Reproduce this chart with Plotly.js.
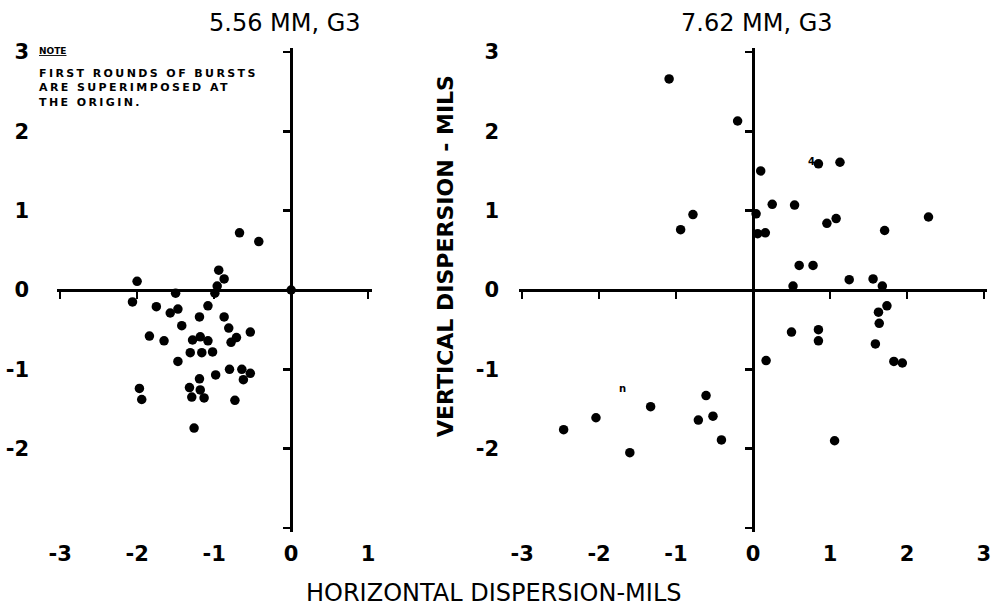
<!DOCTYPE html>
<html><head><meta charset="utf-8">
<script src="https://cdn.plot.ly/plotly-3.0.1.min.js"></script>
<style>html,body{margin:0;padding:0;background:#fff}#chart{width:991px;height:608px}</style>
</head><body><div id="chart"></div>
<script>
// ---- text ----
const leftTitle = "5.56 MM, G3";
const rightTitle = "7.62 MM, G3";
const xTitle = "HORIZONTAL DISPERSION-MILS";
const yTitle = "VERTICAL DISPERSION - MILS";
const noteHead = "NOTE";
const noteLines = ["FIRST ROUNDS OF BURSTS", "ARE SUPERIMPOSED AT", "THE ORIGIN."];
const rightMarkText = ["n", "4"];
const rightMarkX = [-1.70, 0.76];
const rightMarkY = [-1.24, 1.62];

// ---- data: 5.56 mm, G3 ----
const leftX = [0, -0.67, -0.42, -0.94, -0.87, -0.96, -0.99, -2.00, -2.06, -1.50, -1.75, -1.57, -1.47, -1.08,
  -1.19, -1.42, -0.87, -0.81, -0.53, -0.71, -0.78, -1.84, -1.65, -1.28, -1.18, -1.08, -1.31, -1.16,
  -1.02, -1.47, -0.80, -0.98, -0.64, -0.53, -0.62, -1.19, -1.32, -1.29, -1.13, -1.18, -1.97, -1.94,
  -0.73, -1.26];
const leftY = [0, 0.72, 0.61, 0.25, 0.14, 0.05, -0.04, 0.11, -0.15, -0.04, -0.21, -0.29, -0.24, -0.20,
  -0.34, -0.45, -0.34, -0.48, -0.53, -0.60, -0.66, -0.58, -0.64, -0.63, -0.59, -0.64, -0.79, -0.79,
  -0.78, -0.90, -1.00, -1.07, -1.00, -1.05, -1.13, -1.12, -1.23, -1.35, -1.36, -1.26, -1.24, -1.38,
  -1.39, -1.74];

// ---- data: 7.62 mm, G3 ----
const rightX = [-1.09, -0.20, 0.10, 0.25, 0.54, -0.78, -0.94, 0.04, 0.06, 0.16, 0.60, 0.78, 0.52, 0.96,
  1.08, 2.28, 1.71, 1.25, 1.56, 1.68, 1.74, 1.63, 1.64, 1.59, 1.83, 1.94, 0.50, 0.85, 0.85, 0.17,
  -2.46, -2.04, -1.60, -1.33, -0.61, -0.71, -0.52, -0.41, 0.85, 1.13, 1.06];
const rightY = [2.66, 2.13, 1.50, 1.08, 1.07, 0.95, 0.76, 0.96, 0.71, 0.72, 0.31, 0.31, 0.05, 0.84,
  0.90, 0.92, 0.75, 0.13, 0.14, 0.05, -0.20, -0.28, -0.42, -0.68, -0.90, -0.92, -0.53, -0.50, -0.64, -0.89,
  -1.76, -1.61, -2.05, -1.47, -1.33, -1.64, -1.59, -1.89, 1.59, 1.61, -1.90];

// ---- ticks ----
const leftXTickVals = [-3, -2, -1, 0, 1];
const leftXTickText = ["-3", "-2", "-1", "0", "1"];
const rightXTickVals = [-3, -2, -1, 0, 1, 2, 3];
const rightXTickText = ["-3", "-2", "-1", "0", "1", "2", "3"];
const yTickVals = [3, 2, 1, 0, -1, -2];
const yTickText = ["3", "2", "1", "0", "-1", "-2"];
const axisTickVals = [-3, -2, -1, 0, 1, 2, 3];

// ---- layout geometry ----
const W = 991, H = 608, ML = 57, MR = 4, MT = 48, MB = 76;
const PW = W - ML - MR, PH = H - MT - MB;
const px = v => (v - ML) / PW;
const py = v => (H - MB - v) / PH;
const leftRange = [-3.04, 1.05], rightRange = [-3.04, 3.04], yRange = [-3.05, 3.05];
const leftDom = [0, px(372)], rightDom = [px(519), 1];
const zeroPos = (dom, r) => dom[0] + (0 - r[0]) / (r[1] - r[0]) * (dom[1] - dom[0]);

const FONT = "DejaVu Sans";
const tickFont = {family: FONT, size: 21, color: "#000", weight: "bold"};

const labelX = (dom, range, vals, text) => ({
  domain: dom, range: range, fixedrange: true,
  showgrid: false, zeroline: false, showline: false, ticks: "",
  tickmode: "array", tickvals: vals, ticktext: text, tickfont: tickFont,
  ticklabelstandoff: 7, ticklabeloverflow: "allow"
});
const labelY = (standoff) => ({
  domain: [0, 1], range: yRange, fixedrange: true,
  showgrid: false, zeroline: false, showline: false, ticks: "",
  tickmode: "array", tickvals: yTickVals, ticktext: yTickText, tickfont: tickFont,
  ticklabelstandoff: standoff, ticklabeloverflow: "allow"
});
const crossX = (over, range, dom) => ({
  overlaying: over, anchor: "free", position: 0.5, domain: dom, range: range, fixedrange: true,
  showgrid: false, zeroline: false, showline: true, linecolor: "#000", linewidth: 2.6,
  ticks: "outside", ticklen: 7, tickwidth: 2.4, tickcolor: "#000",
  tickmode: "array", tickvals: axisTickVals, showticklabels: false
});
const crossY = (over, pos) => ({
  overlaying: over, anchor: "free", position: pos, side: "left", range: yRange, fixedrange: true,
  showgrid: false, zeroline: false, showline: true, linecolor: "#000", linewidth: 2.6,
  ticks: "outside", ticklen: 7, tickwidth: 2.4, tickcolor: "#000",
  tickmode: "array", tickvals: axisTickVals, showticklabels: false
});

const xa1 = labelX(leftDom, leftRange, leftXTickVals, leftXTickText); xa1.anchor = "y";
const xa2 = labelX(rightDom, rightRange, rightXTickVals, rightXTickText); xa2.anchor = "y2";
const ya1 = labelY(27); ya1.anchor = "x";
const ya2 = labelY(19); ya2.anchor = "x2";

const marker = {size: 9.5, color: "#000", symbol: "circle"};
const traces = [
  {type: "scatter", mode: "markers", x: [], y: [], xaxis: "x", yaxis: "y", showlegend: false, hoverinfo: "skip"},
  {type: "scatter", mode: "markers", x: [], y: [], xaxis: "x2", yaxis: "y2", showlegend: false, hoverinfo: "skip"},
  {type: "scatter", mode: "markers", x: leftX, y: leftY, xaxis: "x3", yaxis: "y3", marker: marker, showlegend: false, cliponaxis: false},
  {type: "scatter", mode: "markers", x: rightX, y: rightY, xaxis: "x4", yaxis: "y4", marker: marker, showlegend: false, cliponaxis: false}
];

const spaced = (t, s) => '<span style="letter-spacing:' + s + 'px">' + t + '</span>';

const annotations = [
  {text: leftTitle, xref: "paper", yref: "paper", x: px(285), y: py(23), xanchor: "center", yanchor: "middle",
   showarrow: false, font: {family: FONT, size: 24, color: "#000"}},
  {text: rightTitle, xref: "paper", yref: "paper", x: px(757), y: py(23), xanchor: "center", yanchor: "middle",
   showarrow: false, font: {family: FONT, size: 24, color: "#000"}},
  {text: xTitle, xref: "paper", yref: "paper", x: px(494), y: py(593), xanchor: "center", yanchor: "middle",
   showarrow: false, font: {family: FONT, size: 24, color: "#000"}},
  {text: yTitle, xref: "paper", yref: "paper", x: px(445), y: py(256), xanchor: "center", yanchor: "middle",
   textangle: -90, showarrow: false, font: {family: FONT, size: 22, color: "#000", weight: "bold"}},
  {text: "<u>" + noteHead + "</u>", xref: "paper", yref: "paper", x: px(37), y: py(51), xanchor: "left", yanchor: "middle",
   showarrow: false, font: {family: FONT, size: 9, color: "#000", weight: "bold"}},
  {text: noteLines.map(t => spaced(t, 2.4)).join("<br>"), xref: "paper", yref: "paper",
   x: px(37), y: py(65), xanchor: "left", yanchor: "top", align: "left", showarrow: false,
   font: {family: FONT, size: 11, color: "#000", weight: "bold"}}
];
rightMarkText.forEach((t, i) => annotations.push({
  text: t, xref: "x4", yref: "y4", x: rightMarkX[i], y: rightMarkY[i], showarrow: false,
  font: {family: FONT, size: 10, color: "#000", weight: "bold"}
}));

const layout = {
  width: W, height: H, margin: {l: ML, r: MR, t: MT, b: MB},
  paper_bgcolor: "#fff", plot_bgcolor: "rgba(0,0,0,0)", showlegend: false,
  xaxis: xa1, yaxis: ya1, xaxis2: xa2, yaxis2: ya2,
  xaxis3: crossX("x", leftRange, leftDom),
  yaxis3: crossY("y", zeroPos(leftDom, leftRange)),
  xaxis4: crossX("x2", rightRange, rightDom),
  yaxis4: crossY("y2", zeroPos(rightDom, rightRange)),
  annotations: annotations
};

Plotly.newPlot("chart", traces, layout, {staticPlot: true, displayModeBar: false});
</script>
</body></html>
